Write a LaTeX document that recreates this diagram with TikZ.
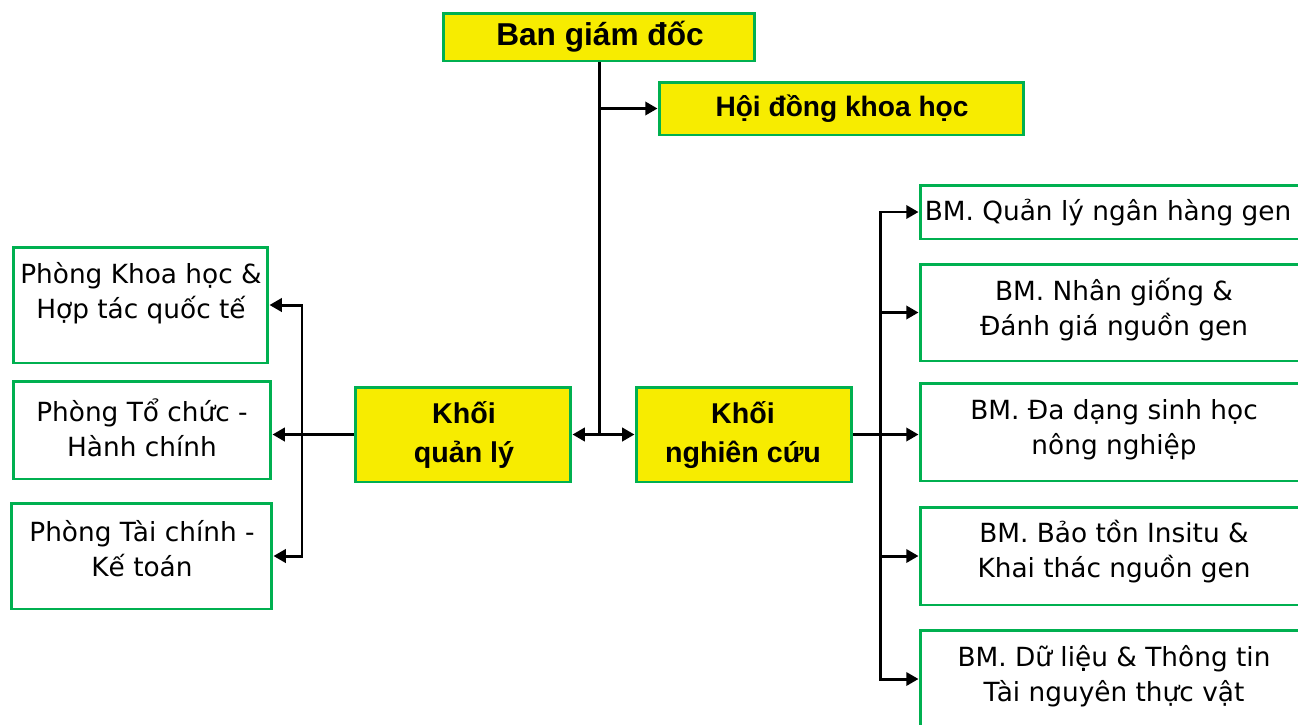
\documentclass[tikz,border=0pt]{standalone}
\usepackage{fontspec}
\setmainfont{DejaVu Sans}
\newfontfamily\arialf{Liberation Sans}
\usetikzlibrary{arrows.meta}
\definecolor{boxgreen}{RGB}{0,176,80}
\definecolor{boxyellow}{RGB}{247,236,0}
\tikzset{
  ybox/.style={draw=boxgreen, line width=1.7pt, fill=boxyellow, inner sep=0pt},
  wbox/.style={draw=boxgreen, line width=1.7pt, fill=white, inner sep=0pt},
  btxt/.style={font=\arialf\bfseries, align=center, inner sep=0pt},
  rtxt/.style={font=\fontsize{15pt}{19.9pt}\selectfont, align=center, inner sep=0pt},
  conn/.style={line width=1.7pt, black},
  arr/.style={conn, -{Triangle[length=7pt,width=7.5pt]}},
  darr/.style={conn, {Triangle[length=7pt,width=7.5pt]}-{Triangle[length=7pt,width=7.5pt]}}
}
\begin{document}
\begin{tikzpicture}[x=0.02cm, y=-0.02cm]
\useasboundingbox (0,0) rectangle (1298,724);
\clip (0,0) rectangle (1298,724);
\fill[white] (0,0) rectangle (1298,724);

% top boxes
\node[ybox, minimum width=6.24cm, minimum height=0.96cm] (ban) at (599,37) {};
\node[btxt, font=\arialf\bfseries\fontsize{18pt}{21pt}\selectfont] (bant) at (600,37) {Ban giám đốc};
\node[ybox, minimum width=7.3cm, minimum height=1.06cm] (hoi) at (841.5,108.5) {};
\node[btxt, font=\arialf\bfseries\fontsize{16pt}{18pt}\selectfont] (hoit) at (842,109) {Hội đồng khoa học};

% middle boxes
\node[ybox, minimum width=4.32cm, minimum height=1.9cm] (kql) at (463,434.5) {};
\node[btxt, font=\arialf\bfseries\fontsize{16.3pt}{22pt}\selectfont] (kqlt) at (464,435) {Khối\\quản lý};
\node[ybox, minimum width=4.32cm, minimum height=1.9cm] (knc) at (744,434.5) {};
\node[btxt, font=\arialf\bfseries\fontsize{16.3pt}{22pt}\selectfont] (knct) at (743,435) {Khối\\nghiên cứu};

% left boxes
\node[wbox, minimum width=5.1cm, minimum height=2.32cm] (l1) at (140.5,305) {};
\node[rtxt] (l1t) at (141,293) {Phòng Khoa học \&\\Hợp tác quốc tế};
\node[wbox, minimum width=5.16cm, minimum height=1.96cm] (l2) at (142,430) {};
\node[rtxt] (l2t) at (142,428) {Phòng Tổ chức -\\Hành chính};
\node[wbox, minimum width=5.22cm, minimum height=2.12cm] (l3) at (141.5,556) {};
\node[rtxt] (l3t) at (142,549) {Phòng Tài chính -\\Kế toán};

% right boxes
\node[wbox, minimum width=7.74cm, minimum height=1.08cm] (r1) at (1113.5,212) {};
\node[rtxt] (r1t) at (1108,213) {BM. Quản lý ngân hàng gen};
\node[wbox, minimum width=7.74cm, minimum height=1.94cm] (r2) at (1113.5,312.5) {};
\node[rtxt] (r2t) at (1114,310) {BM. Nhân giống \&\\Đánh giá nguồn gen};
\node[wbox, minimum width=7.74cm, minimum height=1.96cm] (r3) at (1113.5,432) {};
\node[rtxt] (r3t) at (1114,430) {BM. Đa dạng sinh học\\nông nghiệp};
\node[wbox, minimum width=7.74cm, minimum height=1.96cm] (r4) at (1113.5,556) {};
\node[rtxt] (r4t) at (1114,552) {BM. Bảo tồn Insitu \&\\Khai thác nguồn gen};
\node[wbox, minimum width=7.74cm, minimum height=1.96cm] (r5) at (1113.5,679) {};
\node[rtxt] (r5t) at (1114,676) {BM. Dữ liệu \& Thông tin\\Tài nguyên thực vật};

% connectors
\coordinate (lv) at (302,435);
\coordinate (rv) at (880,435);
\draw[conn] (ban.south) -- (ban.south |- kql.east);
\draw[arr] (ban.south |- hoi.west) -- (hoi.west);
\draw[darr] (kql.east) -- (knc.west);
\draw[arr] (kql.west) -- (kql.west -| l2.east);
\draw[darr] (l1.east) -| (lv) |- (l3.east);
\draw[arr] (knc.east) -- (knc.east -| r3.west);
\draw[arr] (rv) |- (r1.west);
\draw[arr] (rv) |- (r5.west);
\draw[arr] (rv |- r2.west) -- (r2.west);
\draw[arr] (rv |- r4.west) -- (r4.west);
\end{tikzpicture}
\end{document}
